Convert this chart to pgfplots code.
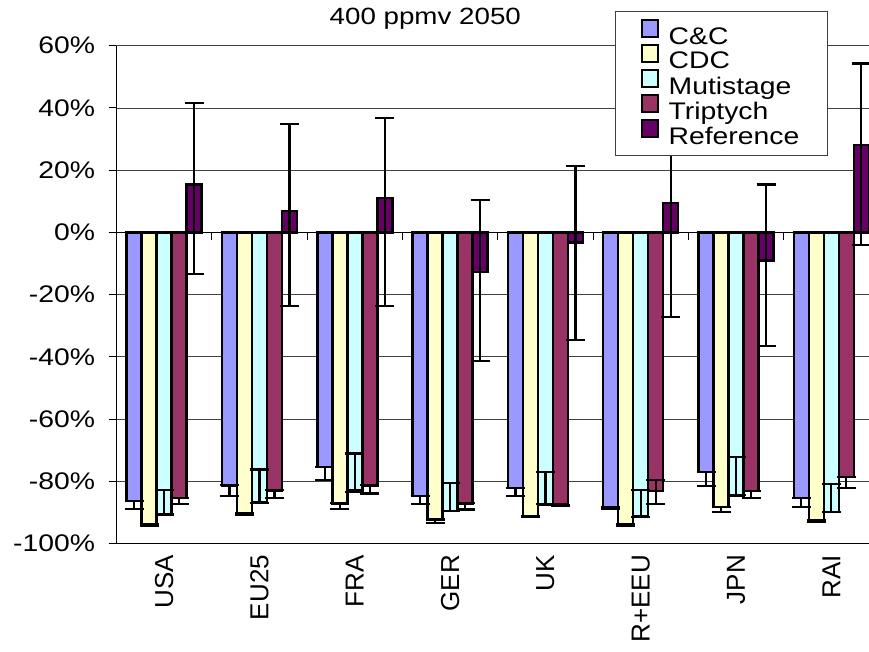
\documentclass[border=0pt]{standalone}
\usepackage{fontspec}
\setmainfont{Liberation Sans}[FakeStretch=1.18]
\newfontfamily\xlabfont{Liberation Sans}
\usepackage{pgfplots}
\usepackage{pgfplotstable}
\pgfplotsset{compat=1.18}
\definecolor{ccc}{HTML}{9999FF}
\definecolor{cdc}{HTML}{FFFFCC}
\definecolor{mut}{HTML}{CCFFFF}
\definecolor{tri}{HTML}{993366}
\definecolor{refc}{HTML}{660066}
\pgfplotstableread{
x y ep em
0 -86.3 0 2.7
1 -81.3 0 3.5
2 -75.4 0 4.2
3 -84.8 0 2.6
4 -82.1 0 2.7
5 -88.2 0 0.6
6 -77.0 0 4.4
7 -85.3 0 2.9
}\tcc
\pgfplotstableread{
x y ep em
0 -93.8 0 0.4
1 -90.2 0 0.5
2 -87.1 0 1.9
3 -92.3 0 1.1
4 -91.2 0 0.3
5 -93.8 0 0.4
6 -88.2 0 1.6
7 -92.5 0 0.7
}\tcdc
\pgfplotstableread{
x y ep em
0 -90.7 7.8 0
1 -86.6 10.4 0.5
2 -82.9 11.8 0.5
3 -89.6 9.1 0
4 -87.4 10.4 0
5 -91.4 8.5 0
6 -84.5 12.4 0
7 -89.8 8.8 0
}\tmut
\pgfplotstableread{
x y ep em
0 -85.3 0 2.1
1 -82.9 0 2.6
2 -81.3 0 2.6
3 -87.1 0 2.0
4 -87.5 0 0.4
5 -83.2 3.6 4.2
6 -83.1 0 2.4
7 -78.6 0 3.5
}\ttri
\pgfplotstableread{
x y ep em
0 15.4 26.3 28.8
1 6.9 27.9 30.6
2 11.1 25.6 34.8
3 -12.7 23.1 28.7
4 -3.3 24.6 31.3
5 9.5 28.5 36.6
6 -9.1 24.5 27.4
7 28.1 26.2 32.2
}\tref
\pgfplotsset{
  errplot/.style={draw=none, mark=none, forget plot,
    error bars/.cd, y dir=both, y explicit,
    error bar style={draw=black, line width=2.2pt},
    error mark options={rotate=90, draw=black, line width=2.2pt, mark size=9.5pt}},
  barplot/.style 2 args={ybar, bar width=15pt, bar shift=#1, fill=#2, draw=black, line width=2.5pt},
}
\begin{document}
\begin{tikzpicture}
\useasboundingbox (-116.5pt,-107.5pt) rectangle (752.5pt,543.5pt);
\begin{axis}[
 at={(0pt,0pt)}, anchor=south west,
 scale only axis, width=762.5pt, height=497.8pt,
 xmin=-0.5, xmax=7.5, ymin=-100, ymax=60,
 axis lines*=left,
 axis line style={black, line width=1pt},
 xtick={0,...,7}, xticklabels={USA,EU25,FRA,GER,UK,R+EEU,JPN,RAI},
 xtick style={draw=none},
 xticklabel style={rotate=90, anchor=east, font=\xlabfont\fontsize{26}{26}\selectfont},
 ytick={-100,-80,...,60},
 yticklabels={-100\%,-80\%,-60\%,-40\%,-20\%,0\%,20\%,40\%,60\%},
 yticklabel style={font=\fontsize{24}{24}\selectfont, xshift=-10pt},
 tick align=outside, major tick length=8pt,
 ytick style={black, line width=1pt},
 ymajorgrids, major grid style={black!75, line width=0.8pt},
 clip=false,
 title={400 ppmv 2050},
 title style={at={(axis description cs:0.405,1)}, anchor=base, yshift=15.2pt, font=\fontsize{23.5}{24}\selectfont},
 legend style={at={(axis description cs:0.6538,1.0697)}, anchor=north west, draw=black!75, line width=0.8pt, fill=white, inner xsep=26pt, inner ysep=8pt, font=\fontsize{24}{24}\selectfont, cells={anchor=west}, row sep=-3.3pt},
 legend image code/.code={\draw[#1, draw=black, line width=2pt] (1pt,-0.5pt) rectangle (17pt,16pt); \path (24pt,0pt);},
]
\addplot[barplot={-30pt}{ccc}] table[x=x,y=y]{\tcc};
\addplot[barplot={-15pt}{cdc}] table[x=x,y=y]{\tcdc};
\addplot[barplot={0pt}{mut}] table[x=x,y=y]{\tmut};
\addplot[barplot={15pt}{tri}] table[x=x,y=y]{\ttri};
\addplot[barplot={30pt}{refc}] table[x=x,y=y]{\tref};
\legend{C\&C,CDC,Mutistage,Triptych,Reference}
\draw[black, line width=1pt] (axis cs:-0.5,0) -- (axis cs:7.5,0);
\pgfplotsinvokeforeach{0.5,1.5,2.5,3.5,4.5,5.5,6.5}{\draw[black,line width=1pt] (axis cs:#1,0) -- ++(0pt,-8pt);}
\addplot[errplot] table[x expr=\thisrow{x}-0.3148,y=y,y error plus=ep,y error minus=em]{\tcc};
\addplot[errplot] table[x expr=\thisrow{x}-0.1574,y=y,y error plus=ep,y error minus=em]{\tcdc};
\addplot[errplot] table[x=x,y=y,y error plus=ep,y error minus=em]{\tmut};
\addplot[errplot] table[x expr=\thisrow{x}+0.1574,y=y,y error plus=ep,y error minus=em]{\ttri};
\addplot[errplot] table[x expr=\thisrow{x}+0.3148,y=y,y error plus=ep,y error minus=em]{\tref};
\end{axis}
\end{tikzpicture}
\end{document}
